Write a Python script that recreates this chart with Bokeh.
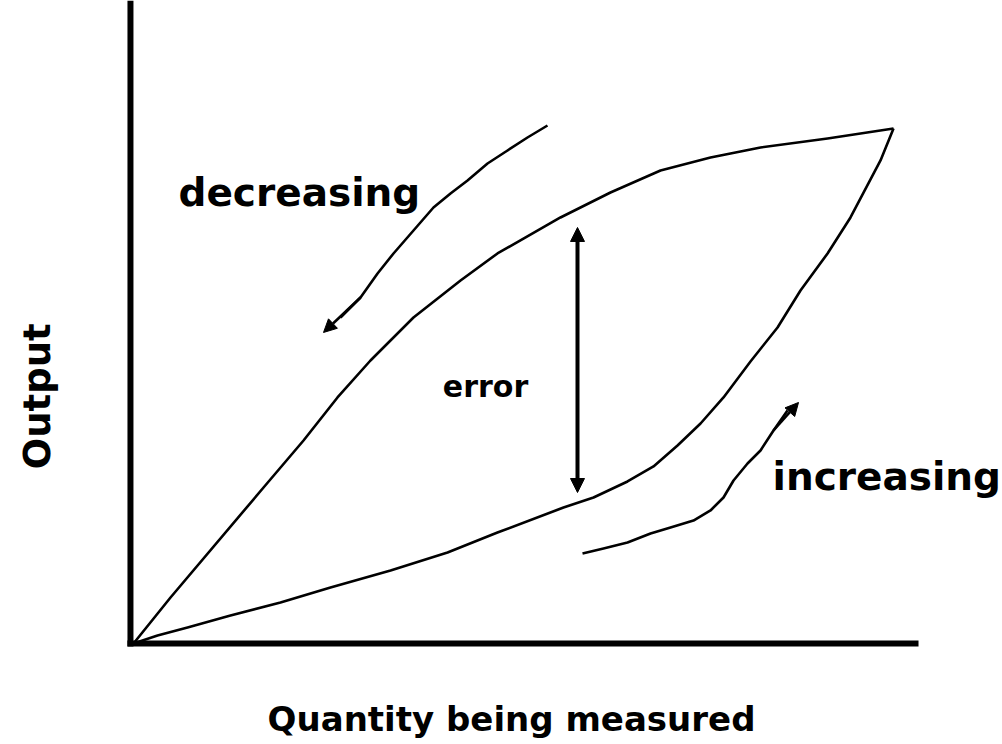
import numpy as np
from bokeh.plotting import figure
from bokeh.models import Range1d, Arrow, NormalHead, ColumnDataSource
from bokeh.core.properties import value
from bokeh.embed import file_html
from bokeh.resources import INLINE

# Hysteresis loop, normalised units (0..100) of quantity (x) and output (y)
down_x = [0, 4.87, 17.11, 22.37, 26.84, 31.18, 36.84, 43.03, 47.89,
          56.18, 62.76, 69.34, 75.92, 82.50, 91.32, 100]
down_y = [0, 8.93, 30.29, 39.42, 47.77, 54.95, 63.30, 70.49, 75.73,
          82.72, 87.57, 91.84, 94.37, 96.31, 98.06, 100]
up_x = [0, 3.16, 7.11, 12.76, 19.34, 25.92, 33.82, 41.32, 47.89, 56.58, 60.53, 65.00,
        68.42, 71.58, 74.61, 77.63, 81.18, 84.74, 87.76, 91.32, 94.34, 98.29, 100]
up_y = [0, 1.55, 3.11, 5.44, 7.96, 10.87, 14.17, 17.67, 21.55, 26.41, 28.35, 31.46,
        34.37, 38.45, 42.72, 47.77, 54.76, 61.36, 68.54, 75.73, 82.72, 93.79, 100]

# direction arrows (start -> tip)
dec_arrow_x = [54.47, 51.84, 49.21, 46.58, 43.95, 41.71, 39.47, 36.84, 34.21, 32.11, 29.87, 27.24, 25.0]
dec_arrow_y = [100.58, 98.25, 95.73, 93.20, 89.90, 87.38, 84.66, 80.19, 75.73, 71.84, 67.18, 63.30, 60.39]
inc_arrow_x = [59.08, 61.84, 65.00, 68.03, 70.66, 73.68, 75.92, 77.63, 78.95, 80.79, 82.50, 84.21, 86.05, 87.50]
inc_arrow_y = [17.48, 18.45, 19.61, 21.36, 22.52, 23.88, 25.83, 28.35, 31.65, 34.95, 37.48, 41.36, 45.24, 46.80]

# error arrow
err_x = 58.42
err_top = 80.78
err_bottom = 29.32

labels_text = ["decreasing", "increasing"]
labels_x = [5.92, 84.08]
labels_y = [87.5, 32.4]

x_label = "Quantity being measured"
y_label = "Output"

x_lo, x_hi = -17.5, 114.34
y_lo, y_hi = -19.61, 124.85

p = figure(width=1002, height=744, output_backend="svg", toolbar_location=None,
           x_range=Range1d(x_lo, x_hi), y_range=Range1d(y_lo, y_hi),
           min_border=0, min_border_left=0, min_border_right=0,
           min_border_top=0, min_border_bottom=0)
p.axis.visible = False
p.grid.visible = False
p.outline_line_color = None
p.background_fill_color = "white"
p.border_fill_color = "white"

# axes lines
p.line([-0.4, -0.4], [-0.6, y_hi], line_color="black", line_width=6)
p.line([-0.8, 103.29], [0, 0], line_color="black", line_width=6)

# loop
lw = 2.6
p.line(down_x, down_y, line_color="black", line_width=lw, line_join="round")
p.line(up_x, up_y, line_color="black", line_width=lw, line_join="round")

# direction arrows
p.line(dec_arrow_x[:-1], dec_arrow_y[:-1], line_color="black", line_width=lw, line_join="round")
p.add_layout(Arrow(end=NormalHead(size=13, fill_color="black", line_color="black"),
                   x_start=dec_arrow_x[-3], y_start=dec_arrow_y[-3],
                   x_end=dec_arrow_x[-1], y_end=dec_arrow_y[-1],
                   line_color="black", line_width=lw))
p.line(inc_arrow_x[:-1], inc_arrow_y[:-1], line_color="black", line_width=lw, line_join="round")
p.add_layout(Arrow(end=NormalHead(size=13, fill_color="black", line_color="black"),
                   x_start=inc_arrow_x[-3], y_start=inc_arrow_y[-3],
                   x_end=inc_arrow_x[-1], y_end=inc_arrow_y[-1],
                   line_color="black", line_width=lw))

# error double arrow
p.add_layout(Arrow(start=NormalHead(size=14, fill_color="black", line_color="black"),
                   end=NormalHead(size=14, fill_color="black", line_color="black"),
                   x_start=err_x, y_start=err_bottom, x_end=err_x, y_end=err_top,
                   line_color="black", line_width=4))

font = value("DejaVu Sans")
src = ColumnDataSource(dict(x=labels_x, y=labels_y, t=labels_text))
p.text(x="x", y="y", text="t", source=src, text_font=font, text_font_style="bold",
       text_font_size="39px", text_align="left", text_baseline="alphabetic", text_color="black")

p.text(x=[46.32], y=[49.9], text=["error"], text_font=font, text_font_style="bold",
       text_font_size="30px", text_align="center", text_baseline="alphabetic", text_color="black")

p.text(x=[49.74], y=[-14.7], text=[x_label], text_font=font, text_font_style="bold",
       text_font_size="34px", text_align="center", text_baseline="alphabetic", text_color="black")

p.text(x=[-12.6], y=[48.0], text=[y_label], angle=np.pi / 2, text_font=font, text_font_style="bold",
       text_font_size="37px", text_align="center", text_baseline="alphabetic", text_color="black")

open("out.html", "w").write(file_html(p, INLINE))
